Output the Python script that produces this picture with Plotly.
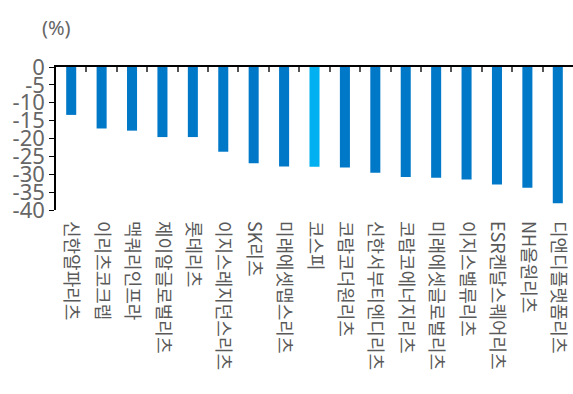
import plotly.graph_objects as go

categories = ["신한알파리츠", "이리츠코크렙", "맥쿼리인프라", "제이알글로벌리츠", "롯데리츠",
              "이지스레지던스리츠", "SK리츠", "미래에셋맵스리츠", "코스피", "코람코더원리츠",
              "신한서부티엔디리츠", "코람코에너지리츠", "미래에셋글로벌리츠", "이지스밸류리츠",
              "ESR켄달스퀘어리츠", "NH올원리츠", "디앤디플랫폼리츠"]
values = [-13.4, -17.2, -17.8, -19.6, -19.6, -23.7, -26.9, -27.8, -27.9, -28.1,
          -29.6, -30.8, -31.0, -31.5, -32.9, -33.8, -38.1]
highlight = "코스피"
y_ticks = [0, -5, -10, -15, -20, -25, -30, -35, -40]

colors = ["#00b0f0" if c == highlight else "#0078c8" for c in categories]

fig = go.Figure()
fig.add_trace(go.Bar(x=categories, y=values, marker=dict(color=colors, line=dict(width=0)),
                     width=0.33, showlegend=False))
fig.add_trace(go.Scatter(x=list(range(len(categories))), y=[None] * len(categories),
                         xaxis="x2", mode="markers", showlegend=False, hoverinfo="skip"))

fig.update_layout(
    width=573, height=394,
    margin=dict(l=56, r=0, t=67, b=184),
    plot_bgcolor="white", paper_bgcolor="white",
    bargap=0.67,
    xaxis=dict(type="category", showline=False, ticks="", showgrid=False, zeroline=False,
               tickangle=90, ticklabelstandoff=10,
               tickfont=dict(family="Noto Sans CJK KR", size=18, color="#595959"),
               range=[-0.5, len(categories) - 0.5]),
    xaxis2=dict(overlaying="x", side="top", showline=True, linecolor="black", linewidth=1.5,
                ticks="inside", tickvals=[i + 0.5 for i in range(len(categories) - 1)],
                ticklen=5, tickcolor="#555", tickwidth=1.5, showticklabels=False,
                showgrid=False, zeroline=False, range=[-0.5, len(categories) - 0.5]),
    yaxis=dict(range=[-40, 0], tickvals=y_ticks, ticktext=[str(v) for v in y_ticks],
               showline=True, linecolor="black", linewidth=1.5, ticks="outside",
               ticklen=5, tickcolor="black", showgrid=False, zeroline=False,
               ticklabelstandoff=0,
               tickfont=dict(family="Noto Sans", size=22, color="#666666")),
    annotations=[dict(text="(%)", xref="paper", yref="paper", x=0.0, y=1.0,
                      yshift=40, showarrow=False, xanchor="center", yanchor="middle",
                      font=dict(family="Noto Sans", size=20, color="#666666"))],
)

fig.write_html("out.html")
